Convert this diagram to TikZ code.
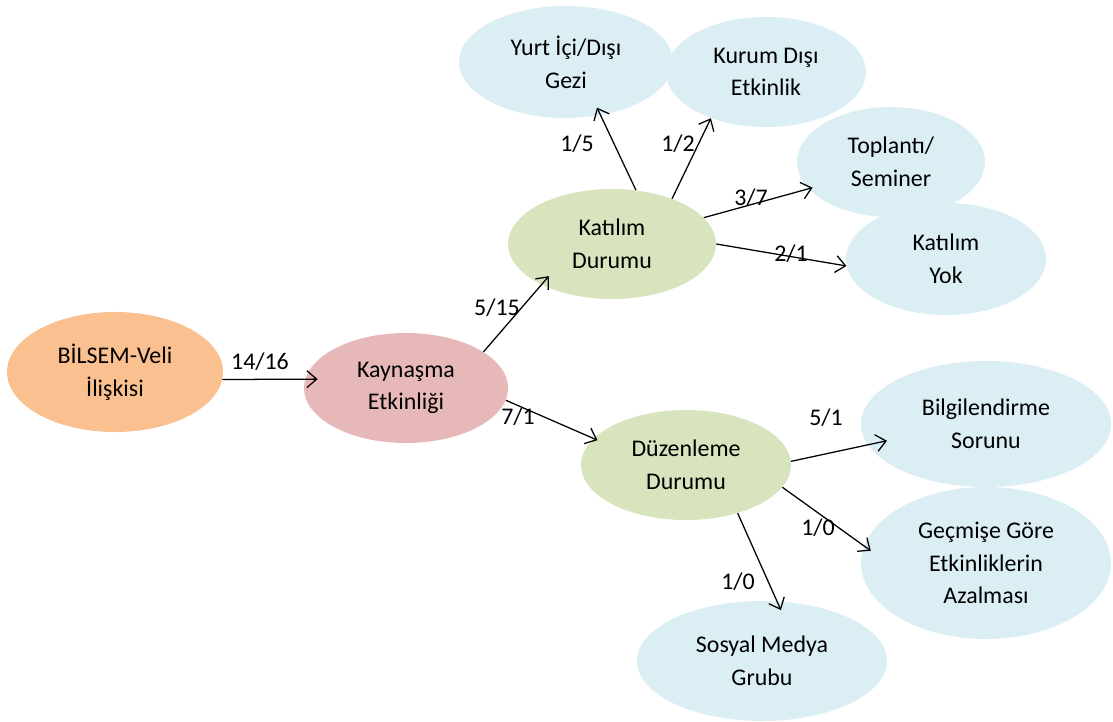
\documentclass[tikz,border=0pt]{standalone}
\usepackage{fontspec}
\setmainfont{Carlito}
\usetikzlibrary{shapes.geometric,arrows.meta}
\definecolor{cOrange}{HTML}{FAC090}
\definecolor{cPink}{HTML}{E6B9B8}
\definecolor{cGreen}{HTML}{D7E4BD}
\definecolor{cBlue}{HTML}{DBEEF4}
\newcommand\lblfont{\fontsize{17}{23.3}\selectfont}
\tikzset{
  bubble/.style={ellipse, draw=none, inner sep=0pt, align=center, font=\lblfont, text=black},
  arr/.style={-{Straight Barb[length=7pt,width=12pt]}, line width=0.9pt, black},
  wt/.style={font=\lblfont, inner sep=0pt, text=black},
}
\begin{document}
\begin{tikzpicture}[x=0.025cm, y=-0.025cm]
\useasboundingbox (0,0) rectangle (1113,722);

% ellipses
\node[bubble, fill=cOrange, minimum width=5.4cm,  minimum height=3.0cm]  (bil)   at (115,372) {BİLSEM-Veli\\İlişkisi};
\node[bubble, fill=cPink,   minimum width=5.1cm,  minimum height=2.75cm] (kay)   at (406,388) {Kaynaşma\\Etkinliği};
\node[bubble, fill=cGreen,  minimum width=5.2cm,  minimum height=2.75cm] (kat)   at (612,244) {Katılım\\Durumu};
\node[bubble, fill=cGreen,  minimum width=5.25cm, minimum height=2.75cm] (duz)   at (686,465) {Düzenleme\\Durumu};
\node[bubble, fill=cBlue,   minimum width=5.35cm, minimum height=2.8cm]  (yurt)  at (566,62)  {Yurt İçi/Dışı\\Gezi};
\node[bubble, fill=cBlue,   minimum width=5.0cm,  minimum height=2.75cm] (kurum) at (766,72)  {Kurum Dışı\\Etkinlik};
\node[bubble, fill=cBlue,   minimum width=4.7cm,  minimum height=2.75cm] (top)   at (891,162) {Toplantı/\\Seminer};
\node[bubble, fill=cBlue,   minimum width=5.0cm,  minimum height=2.8cm]  (yok)   at (946,259) {Katılım\\Yok};
\node[bubble, fill=cBlue,   minimum width=6.25cm, minimum height=3.15cm] (bilg)  at (986,424) {Bilgilendirme\\Sorunu};
\node[bubble, fill=cBlue,   minimum width=6.25cm, minimum height=3.8cm]  (gec)   at (986,563) {Geçmişe Göre\\Etkinliklerin\\Azalması};
\node[bubble, fill=cBlue,   minimum width=6.25cm, minimum height=3.0cm]  (sos)   at (762,661) {Sosyal Medya\\Grubu};

% connectors
\draw[arr, shorten >=-9pt]   (bil.-4)  -- (kay.175);
\draw[arr, shorten >=-8pt]   (kay.25)  -- (kat.-150);
\draw[arr, shorten >=-3pt]   (kay.-7)  -- (duz.164);
\draw[arr, shorten >=-6pt]   (kat.66)  -- (yurt.-57);
\draw[arr]                   (kat.37)  -- (kurum.-140);
\draw[arr, shorten >=-3pt]   (kat.16)  -- (top.198);
\draw[arr]                   (kat.0)   -- (yok.184);
\draw[arr, shorten >=-14pt]  (duz.2)   -- (bilg.190);
\draw[arr, shorten >=-6pt]   (duz.-13) -- (gec.172);
\draw[arr, shorten >=-7pt]   (duz.-43) -- (sos.76);

% weights
\node[wt] (w1)  at (260,362) {14/16};
\node[wt] (w2)  at (497,308) {5/15};
\node[wt] (w3)  at (518,417) {7/1};
\node[wt] (w4)  at (577,144) {1/5};
\node[wt] (w5)  at (678,144) {1/2};
\node[wt] (w6)  at (751,198) {3/7};
\node[wt] (w7)  at (791,254) {2/1};
\node[wt] (w8)  at (826,418) {5/1};
\node[wt] (w9)  at (818,528) {1/0};
\node[wt] (w10) at (738,582) {1/0};
\end{tikzpicture}
\end{document}
